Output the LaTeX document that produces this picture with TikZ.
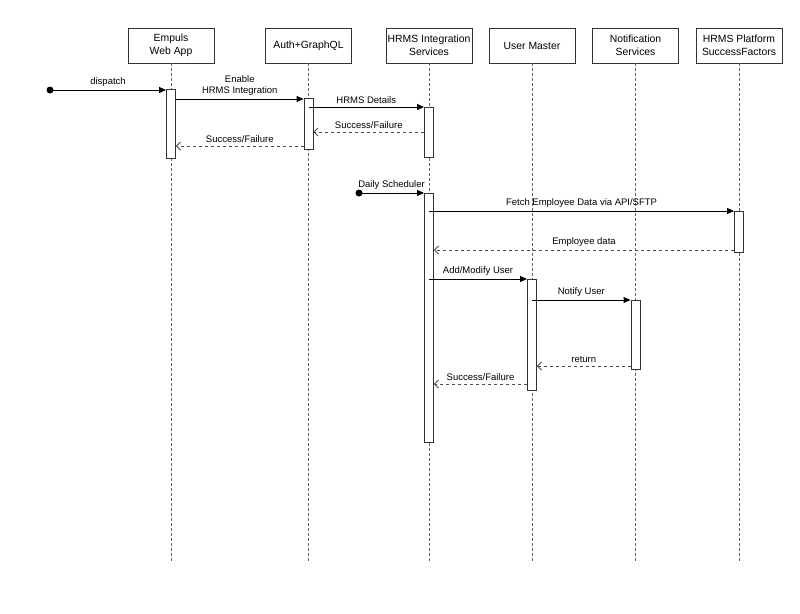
\documentclass[tikz,border=0pt]{standalone}
\usepackage{fontspec}
\setmainfont{Liberation Sans}
\usetikzlibrary{arrows.meta,calc}
\begin{document}
\begin{tikzpicture}[x=1pt,y=-1pt,
  head/.style={draw=black!80,line width=0.9pt,fill=white,minimum width=86pt,minimum height=35pt,inner sep=1pt,align=center,font=\fontsize{10.4}{12.5}\selectfont},
  life/.style={draw=black!60,line width=0.8pt,dash pattern=on 2.5pt off 2.5pt},
  act/.style={draw=black!80,line width=0.9pt,fill=white,minimum width=9pt,inner sep=0pt,anchor=north},
  msg/.style={draw=black,line width=0.9pt,-{Triangle[length=7pt,width=6pt]}},
  ret/.style={draw=black!70,line width=0.9pt,dash pattern=on 3pt off 3pt,-{Straight Barb[length=4pt,width=8pt,line width=0.8pt]}},
  lbl/.style={font=\fontsize{9.5}{11}\selectfont,inner sep=1pt,anchor=south,yshift=2pt,align=center},
  dot/.style={circle,fill=black,minimum size=7pt,inner sep=0pt}]
\useasboundingbox (0,0) rectangle (800,613);
% headers
\node[head] (h1) at (171,45.5) {Empuls\\Web App};
\node[head] (h2) at (308.5,45.5) {Auth+GraphQL};
\node[head] (h3) at (429,45.5) {HRMS Integration\\Services};
\node[head] (h4) at (532,45.5) {User Master};
\node[head] (h5) at (635.5,45.5) {Notification\\Services};
\node[head] (h6) at (739,45.5) {HRMS Platform\\SuccessFactors};
% lifeline ends
\coordinate (yend) at (0,563);
\foreach \i in {1,...,6} {\draw[life] (h\i.south) -- (h\i.south |- yend);}
% activations
\node[act,minimum height=69pt] (a1) at (171,89) {};
\node[act,minimum height=51pt] (a2) at (308.5,98) {};
\node[act,minimum height=50pt] (a3) at (429,107) {};
\node[act,minimum height=249pt] (a4) at (429,193) {};
\node[act,minimum height=41pt] (a6) at (739,211) {};
\node[act,minimum height=111pt] (a5) at (532,279) {};
\node[act,minimum height=69pt] (a7) at (635.5,300) {};
% y levels
\coordinate (y1) at (0,90);
\coordinate (y2) at (0,99);
\coordinate (y3) at (0,107);
\coordinate (y4) at (0,132);
\coordinate (y5) at (0,146);
\coordinate (y6) at (0,193);
\coordinate (y7) at (0,211);
\coordinate (y8) at (0,250);
\coordinate (y9) at (0,279);
\coordinate (y10) at (0,300);
\coordinate (y11) at (0,366);
\coordinate (y12) at (0,384);
% start dots
\node[dot] (d1) at (50,90) {};
\node[dot] (d2) at (359,193) {};
% messages
\draw[msg] (d1.center) -- (a1.west |- y1) node[lbl,midway] {dispatch};
\draw[msg] (a1.east |- y2) -- (a2.west |- y2) node[lbl,midway] {Enable\\HRMS Integration};
\draw[msg] (a2.center |- y3) -- (a3.west |- y3) node[lbl,midway] {HRMS Details};
\draw[ret] (a3.west |- y4) -- (a2.east |- y4) node[lbl,midway] {Success/Failure};
\draw[ret] (a2.west |- y5) -- (a1.east |- y5) node[lbl,midway] {Success/Failure};
\draw[msg] (d2.center) -- (a4.west |- y6) node[lbl,midway] {Daily Scheduler};
\draw[msg] (a4.center |- y7) -- (a6.west |- y7) node[lbl,midway] {Fetch Employee Data via API/SFTP};
\draw[ret] (a6.west |- y8) -- (a4.east |- y8) node[lbl,midway] {Employee data};
\draw[msg] (a4.center |- y9) -- (a5.west |- y9) node[lbl,midway] {Add/Modify User};
\draw[msg] (a5.center |- y10) -- (a7.west |- y10) node[lbl,midway] {Notify User};
\draw[ret] (a7.west |- y11) -- (a5.east |- y11) node[lbl,midway] {return};
\draw[ret] (a5.west |- y12) -- (a4.east |- y12) node[lbl,midway] {Success/Failure};
\end{tikzpicture}
\end{document}
